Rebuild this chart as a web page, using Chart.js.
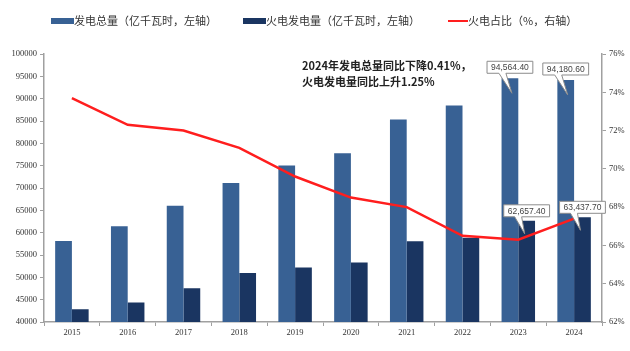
<!DOCTYPE html>
<html>
<head>
<meta charset="utf-8">
<script src="https://cdn.jsdelivr.net/npm/chart.js@4.4.1/dist/chart.umd.min.js"></script>
<style>
  html, body { margin: 0; padding: 0; background: #fff; }
  #wrap { width: 630px; height: 351px; }
</style>
</head>
<body>
<div id="wrap"><canvas id="powerChart" width="630" height="351"></canvas></div>
<script>
// data
const years = ['2015', '2016', '2017', '2018', '2019', '2020', '2021', '2022', '2023', '2024'];
const totalGen = [58146, 61425, 66044, 71118, 75034, 77791, 85342, 88487, 94564.4, 94180.6];
const thermalGen = [42842, 44371, 47546, 50963, 52201, 53302, 58058, 58888, 62657.4, 63437.7];
const thermalShare = [73.7, 72.3, 72.0, 71.1, 69.6, 68.5, 68.0, 66.5, 66.3, 67.4];
const calloutYears = ['2023', '2024'];
const legendNames = ['发电总量（亿千瓦时，左轴）', '火电发电量（亿千瓦时，左轴）', '火电占比（%，右轴）'];
const noteLines = ['2024年发电总量同比下降0.41%，', '火电发电量同比上升1.25%'];

const blue = '#386194';
const navy = '#1a3561';
const red = '#ff1e1e';
const axisGray = '#a0a0a0';
const serif = '"Liberation Serif", "Times New Roman", serif';
const cjk = '"Noto Sans CJK SC", sans-serif';

function fmt(v) {
    return v.toLocaleString('en-US', { minimumFractionDigits: 2, maximumFractionDigits: 2 });
}

// callout box with a little tail pointing into the bar
function drawCallout(ctx, bar, value, boxDy, tail) {
    ctx.save();
    ctx.font = '8.5px "Liberation Sans", Arial, sans-serif';
    const text = fmt(value);
    const w = ctx.measureText(text).width + 8;
    const h = 12;
    const cx = bar.x;
    const cy = bar.y + boxDy;
    const l = cx - w / 2, r = cx + w / 2, t = cy - h / 2, b = cy + h / 2;
    ctx.beginPath();
    ctx.moveTo(l, t);
    ctx.lineTo(r, t);
    ctx.lineTo(r, b);
    ctx.lineTo(cx + tail[1], b);
    ctx.lineTo(bar.x + tail[2], bar.y + tail[3]);
    ctx.lineTo(cx + tail[0], b);
    ctx.lineTo(l, b);
    ctx.closePath();
    ctx.fillStyle = '#fff';
    ctx.fill();
    ctx.strokeStyle = '#8c8c8c';
    ctx.lineWidth = 1;
    ctx.stroke();
    ctx.fillStyle = '#444';
    ctx.textAlign = 'center';
    ctx.textBaseline = 'middle';
    ctx.fillText(text, cx, cy + 0.5);
    ctx.restore();
}

const extrasPlugin = {
    id: 'extras',
    afterDraw(chart) {
        const ctx = chart.ctx;

        // legend
        ctx.save();
        ctx.font = '11px ' + cjk;
        ctx.textBaseline = 'middle';
        const items = [
            { x: 51, color: blue, type: 'box' },
            { x: 243, color: navy, type: 'box' },
            { x: 448, color: red, type: 'line' }
        ];
        items.forEach((it, i) => {
            if (it.type === 'box') {
                ctx.fillStyle = it.color;
                ctx.fillRect(it.x, 18, 23, 6);
            } else {
                ctx.strokeStyle = it.color;
                ctx.lineWidth = 2;
                ctx.beginPath();
                ctx.moveTo(it.x, 21);
                ctx.lineTo(it.x + 20, 21);
                ctx.stroke();
            }
            ctx.fillStyle = '#333';
            ctx.fillText(legendNames[i], it.x + (it.type === 'box' ? 23 : 20), 21);
        });

        // note text
        ctx.font = 'bold 11px ' + cjk;
        ctx.fillStyle = '#222';
        ctx.textAlign = 'left';
        ctx.fillText(noteLines[0], 302, 66);
        ctx.fillText(noteLines[1], 302, 82);
        ctx.restore();

        // callouts for the last two years
        const totalMeta = chart.getDatasetMeta(0);
        const thermalMeta = chart.getDatasetMeta(1);
        calloutYears.forEach(yr => {
            const i = years.indexOf(yr);
            drawCallout(ctx, totalMeta.data[i], totalGen[i], -11, [-11, -4, 2, 15]);
            drawCallout(ctx, thermalMeta.data[i], thermalGen[i], -10, [-12, -5, -2, 13]);
        });
    }
};

function initChart() {
    const ctx = document.getElementById('powerChart').getContext('2d');
    new Chart(ctx, {
        data: {
            labels: years,
            datasets: [
                {
                    type: 'bar',
                    label: legendNames[0],
                    data: totalGen,
                    backgroundColor: blue,
                    yAxisID: 'y',
                    order: 2,
                    barPercentage: 1,
                    categoryPercentage: 0.6
                },
                {
                    type: 'bar',
                    label: legendNames[1],
                    data: thermalGen,
                    backgroundColor: navy,
                    yAxisID: 'y',
                    order: 2,
                    barPercentage: 1,
                    categoryPercentage: 0.6
                },
                {
                    type: 'line',
                    label: legendNames[2],
                    data: thermalShare,
                    borderColor: red,
                    borderWidth: 2.5,
                    pointRadius: 0,
                    tension: 0,
                    yAxisID: 'y1',
                    order: 1
                }
            ]
        },
        options: {
            responsive: false,
            animation: false,
            layout: { padding: { top: 54, left: 0, right: 0, bottom: 0 } },
            plugins: {
                legend: { display: false },
                tooltip: { enabled: false }
            },
            scales: {
                x: {
                    offset: true,
                    grid: {
                        offset: true,
                        drawOnChartArea: false,
                        drawTicks: true,
                        tickLength: 4,
                        color: axisGray
                    },
                    border: { color: axisGray, width: 1.5 },
                    ticks: {
                        color: '#333',
                        font: { family: serif, size: 8.5 },
                        padding: 2,
                        maxRotation: 0
                    },
                    afterFit(scale) { scale.height = 29; }
                },
                y: {
                    position: 'left',
                    min: 40000,
                    max: 100000,
                    grid: {
                        drawOnChartArea: false,
                        drawTicks: true,
                        tickLength: 4,
                        color: axisGray
                    },
                    border: { color: axisGray, width: 1.5 },
                    ticks: {
                        stepSize: 5000,
                        color: '#333',
                        font: { family: serif, size: 8.5 },
                        padding: 3,
                        callback: v => String(v)
                    },
                    afterFit(scale) { scale.width = 44; }
                },
                y1: {
                    position: 'right',
                    min: 62,
                    max: 76,
                    grid: {
                        drawOnChartArea: false,
                        drawTicks: true,
                        tickLength: 4,
                        color: axisGray
                    },
                    border: { color: axisGray, width: 1.5 },
                    ticks: {
                        stepSize: 2,
                        color: '#333',
                        font: { family: serif, size: 8.5 },
                        padding: 3,
                        callback: v => v + '%'
                    },
                    afterFit(scale) { scale.width = 28; }
                }
            }
        },
        plugins: [extrasPlugin]
    });
}

document.addEventListener('DOMContentLoaded', function () {
    initChart();
});
</script>
</body>
</html>
